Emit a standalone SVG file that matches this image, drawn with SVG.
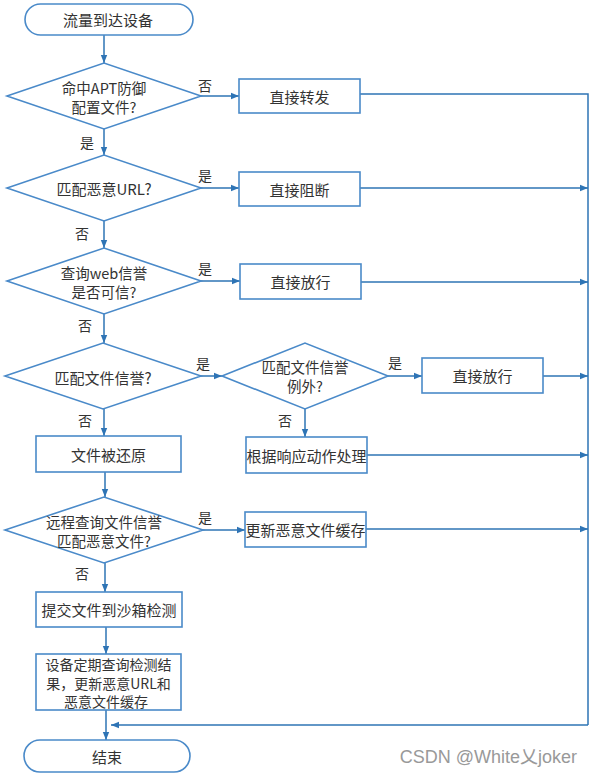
<svg xmlns="http://www.w3.org/2000/svg" width="593" height="777" viewBox="0 0 593 777">
<defs>
<marker id="ah" viewBox="0 0 10 10" refX="10" refY="5" markerWidth="8" markerHeight="8" markerUnits="userSpaceOnUse" orient="auto">
<path d="M0,1 L10,5 L0,9 z" fill="#2e74b5"/>
</marker>
<style>
.s{fill:#fff;stroke:#4a8ac9;stroke-width:1.6}
.t{font-family:"Noto Sans CJK SC","Noto Sans",sans-serif;font-size:15px;fill:#333;text-anchor:middle;dominant-baseline:central}
.m{font-size:14.5px}
.n{font-size:14px}
.l{font-family:"Noto Sans CJK SC","Noto Sans",sans-serif;font-size:14px;fill:#333;text-anchor:middle;dominant-baseline:central}
.c{fill:none;stroke:#2e74b5;stroke-width:1.5}
.a{marker-end:url(#ah)}
</style>
</defs>
<rect width="593" height="777" fill="#fff"/>
<g id="connectors">
<path class="c a" d="M104,35 V63"/>
<path class="c a" d="M201,96 H239"/>
<path class="c a" d="M104,129 V155"/>
<path class="c a" d="M201,188 H239"/>
<path class="c a" d="M104,221 V248"/>
<path class="c a" d="M201,281 H240"/>
<path class="c a" d="M104,314 V343"/>
<path class="c a" d="M201,376 H222"/>
<path class="c a" d="M388,376 H422"/>
<path class="c a" d="M104,409 V436"/>
<path class="c a" d="M305,409 V437"/>
<path class="c a" d="M105,472 V497"/>
<path class="c a" d="M203,530 H245"/>
<path class="c a" d="M105,563 V592"/>
<path class="c a" d="M106,627 V654"/>
<path class="c a" d="M106,710 V740"/>
<path class="c" d="M360,94 H588 V725"/>
<path class="c a" d="M588,725 H111"/>
<path class="c a" d="M360,188 H588"/>
<path class="c a" d="M361,282 H588"/>
<path class="c a" d="M543,376 H588"/>
<path class="c a" d="M367,455 H588"/>
<path class="c a" d="M366,529 H588"/>
<text class="l" x="205" y="85">否</text>
<text class="l" x="87" y="142">是</text>
<text class="l" x="205" y="175">是</text>
<text class="l" x="82" y="233">否</text>
<text class="l" x="205" y="268">是</text>
<text class="l" x="85" y="325">否</text>
<text class="l" x="203" y="363">是</text>
<text class="l" x="395" y="362">是</text>
<text class="l" x="85" y="420">否</text>
<text class="l" x="285" y="420">否</text>
<text class="l" x="205" y="517">是</text>
<text class="l" x="82" y="573">否</text>
</g>
<g id="start">
<rect class="s" x="25" y="4" width="168" height="31" rx="15.5"/>
<text class="t" x="108" y="19.5">流量到达设备</text>
</g>
<g id="d1">
<polygon class="s" points="7,96 104,63 201,96 104,129"/>
<text class="t m" x="104" y="87">命中APT防御</text>
<text class="t m" x="104" y="106">配置文件?</text>
</g>
<g id="b1">
<rect class="s" x="239" y="79" width="121" height="34"/>
<text class="t" x="299.5" y="96">直接转发</text>
</g>
<g id="d2">
<polygon class="s" points="7,188 104,155 201,188 104,221"/>
<text class="t" x="104" y="188">匹配恶意URL?</text>
</g>
<g id="b2">
<rect class="s" x="239" y="172" width="121" height="34"/>
<text class="t" x="299.5" y="189">直接阻断</text>
</g>
<g id="d3">
<polygon class="s" points="7,281 104,248 201,281 104,314"/>
<text class="t m" x="104" y="272">查询web信誉</text>
<text class="t m" x="104" y="291">是否可信?</text>
</g>
<g id="b3">
<rect class="s" x="240" y="264" width="121" height="35"/>
<text class="t" x="300.5" y="281.5">直接放行</text>
</g>
<g id="d4">
<polygon class="s" points="5,376 103,343 201,376 103,409"/>
<text class="t" x="103" y="377">匹配文件信誉?</text>
</g>
<g id="d4b">
<polygon class="s" points="222,376 305,343 388,376 305,409"/>
<text class="t m" x="305" y="366">匹配文件信誉</text>
<text class="t m" x="305" y="385">例外?</text>
</g>
<g id="b4">
<rect class="s" x="422" y="358" width="121" height="35"/>
<text class="t" x="482.5" y="375.5">直接放行</text>
</g>
<g id="b5">
<rect class="s" x="36" y="436" width="145" height="36"/>
<text class="t" x="108.5" y="454">文件被还原</text>
</g>
<g id="b6">
<rect class="s" x="246" y="437" width="121" height="36"/>
<text class="t" x="306.5" y="455">根据响应动作处理</text>
</g>
<g id="d5">
<polygon class="s" points="5,530 104,497 203,530 104,563"/>
<text class="t m" x="104" y="521">远程查询文件信誉</text>
<text class="t m" x="104" y="540">匹配恶意文件?</text>
</g>
<g id="b7">
<rect class="s" x="245" y="512" width="121" height="35"/>
<text class="t" x="305.5" y="529.5">更新恶意文件缓存</text>
</g>
<g id="b8">
<rect class="s" x="36" y="592" width="146" height="35"/>
<text class="t" x="109" y="609.5">提交文件到沙箱检测</text>
</g>
<g id="b9">
<rect class="s" x="36" y="654" width="145" height="56"/>
<text class="t n" x="108.5" y="664">设备定期查询检测结</text>
<text class="t n" x="108.5" y="682.5">果，更新恶意URL和</text>
<text class="t n" x="106" y="701">恶意文件缓存</text>
</g>
<g id="end">
<rect class="s" x="24" y="740" width="166" height="32" rx="16"/>
<text class="t" x="107" y="756">结束</text>
</g>
<text x="577" y="763" font-family="'Liberation Sans','Noto Sans CJK SC',sans-serif" font-size="18" fill="#999" text-anchor="end">CSDN @White乂joker</text>
</svg>
